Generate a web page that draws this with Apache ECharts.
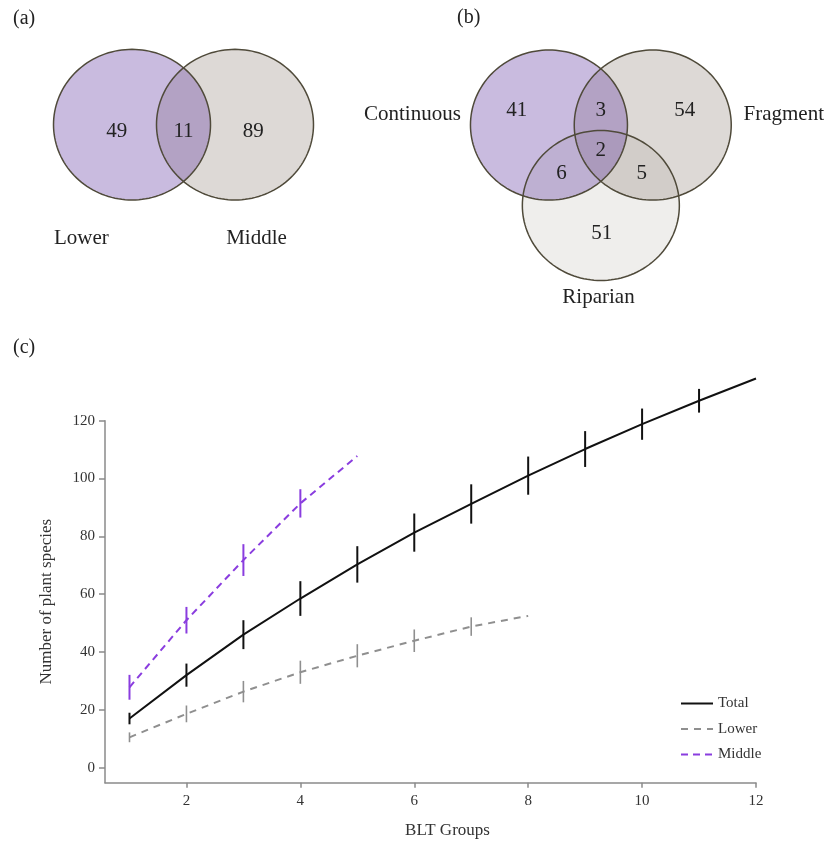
<!DOCTYPE html>
<html>
<head>
<meta charset="utf-8">
<script src="https://cdn.jsdelivr.net/npm/echarts@6/dist/echarts.min.js"></script>
<style>
  html, body { margin: 0; padding: 0; background: #ffffff; }
  #main { width: 827px; height: 841px; }
</style>
</head>
<body>
<div id="main"></div>
<script>
// ---- (c) species accumulation across BLT groups (mean and SD) ----
const bltGroups  = [1, 2, 3, 4, 5, 6, 7, 8, 9, 10, 11, 12];
const totalMean  = [17.0, 32.0, 46.0, 58.5, 70.3, 81.3, 91.2, 101.0, 110.2, 118.8, 126.9, 134.6];
const totalSd    = [2.0, 4.0, 5.0, 6.0, 6.3, 6.6, 6.8, 6.6, 6.2, 5.4, 4.1];
const lowerMean  = [10.5, 18.6, 26.3, 33.0, 38.7, 43.9, 48.8, 52.5];
const lowerSd    = [1.7, 2.9, 3.7, 4.0, 4.0, 3.9, 3.2];
const middleMean = [27.8, 51.0, 71.8, 91.4, 107.8];
const middleSd   = [4.3, 4.6, 5.5, 4.9];
const xTicks = [2, 4, 6, 8, 10, 12];
const yTicks = [0, 20, 40, 60, 80, 100, 120];

// ---- (a) species shared between strata ----
const strataSets   = ['Lower', 'Middle'];
const strataCounts = [49, 11, 89];            // Lower only, shared, Middle only

// ---- (b) species shared between habitats ----
const habitatSets   = ['Continuous', 'Fragment', 'Riparian'];
const habitatCounts = [41, 3, 54, 2, 6, 5, 51]; // C, C∩F, F, C∩F∩R, C∩R, F∩R, R

// Venn geometry in unit-radius space
const strataLayout = {
  centers: [[-0.656, 0], [0.656, 0]],
  countAt: [[-0.85, -0.09], [0, -0.09], [0.89, -0.09]],
  nameAt:  [[-1.30, -1.51], [0.93, -1.51]],
  fills:   ['rgba(101,61,164,0.35)', '#ddd9d6'],
  order:   [1, 0]
};
const habitatLayout = {
  centers: [[-0.661, 0.333], [0.661, 0.333], [0, -0.74]],
  countAt: [[-1.07, 0.53], [0, 0.53], [1.07, 0.53], [0, -0.01], [-0.50, -0.31], [0.52, -0.31], [0.01, -1.11]],
  nameAt:  [[-2.40, 0.47], [2.33, 0.47], [-0.03, -1.96]],
  fills:   ['rgba(101,61,164,0.35)', 'rgba(142,128,118,0.30)', '#efeeec'],
  order:   [2, 1, 0]
};

const SERIF = "'Liberation Serif', 'Times New Roman', serif";
const INK = '#222';
const AXIS = '#8a8a8a';

function pairs(xs, ys) { return ys.map((y, i) => [xs[i], y]); }
function bars(xs, ys, sd) { return sd.map((s, i) => [xs[i], ys[i] - s, ys[i] + s]); }

function errorBarSeries(name, data, color, width) {
  return {
    type: 'custom', name: name, xAxisIndex: 0, yAxisIndex: 0, clip: false, silent: true, z: 3,
    encode: { x: 0, y: [1, 2] },
    data: data,
    renderItem: function (params, api) {
      const a = api.coord([api.value(0), api.value(1)]);
      const b = api.coord([api.value(0), api.value(2)]);
      return { type: 'line', shape: { x1: a[0], y1: a[1], x2: b[0], y2: b[1] },
               style: { stroke: color, lineWidth: width } };
    }
  };
}

function ringPoints(api, cx, cy) {
  const pts = [];
  for (let k = 0; k < 144; k++) {
    const t = k / 144 * Math.PI * 2;
    pts.push(api.coord([cx + Math.cos(t), cy + Math.sin(t)]));
  }
  return pts;
}

function vennSeries(axisIdx, layout, sets, counts) {
  const fillData = layout.order.map(i => [layout.centers[i][0], layout.centers[i][1], i]);
  const ringData = layout.centers.map((c, i) => [c[0], c[1], i]);
  const textData = layout.countAt.map((p, i) => [p[0], p[1], i]);
  const nameData = layout.nameAt.map((p, i) => [p[0], p[1], i]);
  const base = { type: 'custom', xAxisIndex: axisIdx, yAxisIndex: axisIdx, clip: false, silent: true };
  const textItem = (labels) => function (params, api) {
    const p = api.coord([api.value(0), api.value(1)]);
    return { type: 'text', x: p[0], y: p[1],
             style: { text: String(labels[api.value(2)]), fill: INK, font: '21px ' + SERIF,
                      align: 'center', verticalAlign: 'middle' } };
  };
  return [
    Object.assign({}, base, { data: fillData, renderItem: function (params, api) {
      return { type: 'polygon', shape: { points: ringPoints(api, api.value(0), api.value(1)) },
               style: { fill: layout.fills[api.value(2)], stroke: 'none' } };
    } }),
    Object.assign({}, base, { data: ringData, renderItem: function (params, api) {
      return { type: 'polygon', shape: { points: ringPoints(api, api.value(0), api.value(1)) },
               style: { fill: 'none', stroke: '#4f4a3a', lineWidth: 1.5 } };
    } }),
    Object.assign({}, base, { data: textData, renderItem: textItem(counts) }),
    Object.assign({}, base, { data: nameData, renderItem: textItem(sets) })
  ];
}

const hiddenAxis = (grid, min, max) => ({ type: 'value', gridIndex: grid, min: min, max: max, show: false });

const chart = echarts.init(document.getElementById('main'), null, { renderer: 'canvas' });

chart.setOption({
  backgroundColor: '#ffffff',
  animation: false,
  textStyle: { fontFamily: SERIF },
  grid: [
    { left: 105, right: 71, top: 420.7, bottom: 58.3 },
    { left: 26.5, top: 11.7, width: 314, height: 225.9 },
    { left: 404.6, top: 0, width: 392.5, height: 300 }
  ],
  xAxis: [
    {
      type: 'value', gridIndex: 0, min: 0.57, max: 12,
      axisLine: { show: true, onZero: false, lineStyle: { color: AXIS, width: 1.5 } },
      axisTick: { show: true, length: 5, customValues: xTicks, lineStyle: { color: AXIS, width: 1.5 } },
      axisLabel: { customValues: xTicks, margin: 11, fontSize: 15, fontFamily: SERIF, color: '#333' },
      splitLine: { show: false },
      name: 'BLT Groups', nameLocation: 'middle', nameGap: 39,
      nameTextStyle: { fontSize: 17, fontFamily: SERIF, color: '#333', padding: [0, 0, 0, 34] }
    },
    hiddenAxis(1, -2, 2),
    hiddenAxis(2, -2.5, 2.5)
  ],
  yAxis: [
    {
      type: 'value', gridIndex: 0, min: -5.2, max: 120,
      axisLine: { show: true, onZero: false, lineStyle: { color: AXIS, width: 1.5 } },
      axisTick: { show: true, length: 6, customValues: yTicks, lineStyle: { color: AXIS, width: 1.5 } },
      axisLabel: { customValues: yTicks, margin: 10, fontSize: 15, fontFamily: SERIF, color: '#333' },
      splitLine: { show: false },
      name: 'Number of plant species', nameLocation: 'middle', nameGap: 50, nameRotate: 90,
      nameTextStyle: { fontSize: 17, fontFamily: SERIF, color: '#333' }
    },
    hiddenAxis(1, -1.5, 1.5),
    hiddenAxis(2, -2, 2)
  ],
  legend: {
    data: ['Total', 'Lower', 'Middle'],
    orient: 'vertical', left: 675, top: 691,
    itemWidth: 32, itemHeight: 14, itemGap: 10.5,
    itemStyle: { opacity: 0, borderWidth: 0 },
    textStyle: { fontFamily: SERIF, fontSize: 15, color: '#333' }
  },
  graphic: [
    { type: 'text', left: 13, top: 9, style: { text: '(a)', font: '20px ' + SERIF, fill: INK } },
    { type: 'text', left: 457, top: 8, style: { text: '(b)', font: '20px ' + SERIF, fill: INK } },
    { type: 'text', left: 13, top: 338, style: { text: '(c)', font: '20px ' + SERIF, fill: INK } }
  ],
  series: [
    {
      type: 'line', name: 'Total', xAxisIndex: 0, yAxisIndex: 0, clip: false,
      data: pairs(bltGroups, totalMean), symbol: 'none', z: 4,
      lineStyle: { color: '#111111', width: 2 }, itemStyle: { color: '#111111' }
    },
    {
      type: 'line', name: 'Lower', xAxisIndex: 0, yAxisIndex: 0, clip: false,
      data: pairs(bltGroups, lowerMean), symbol: 'none', z: 4,
      lineStyle: { color: '#8f8f8f', width: 2, type: [7, 6] }, itemStyle: { color: '#8f8f8f' }
    },
    {
      type: 'line', name: 'Middle', xAxisIndex: 0, yAxisIndex: 0, clip: false,
      data: pairs(bltGroups, middleMean), symbol: 'none', z: 4,
      lineStyle: { color: '#8a3ddf', width: 2, type: [7, 5] }, itemStyle: { color: '#8a3ddf' }
    },
    errorBarSeries('Total SD', bars(bltGroups, totalMean, totalSd), '#111111', 2),
    errorBarSeries('Lower SD', bars(bltGroups, lowerMean, lowerSd), '#8f8f8f', 1.6),
    errorBarSeries('Middle SD', bars(bltGroups, middleMean, middleSd), '#8a3ddf', 2)
  ]
    .concat(vennSeries(1, strataLayout, strataSets, strataCounts))
    .concat(vennSeries(2, habitatLayout, habitatSets, habitatCounts))
});
</script>
</body>
</html>
